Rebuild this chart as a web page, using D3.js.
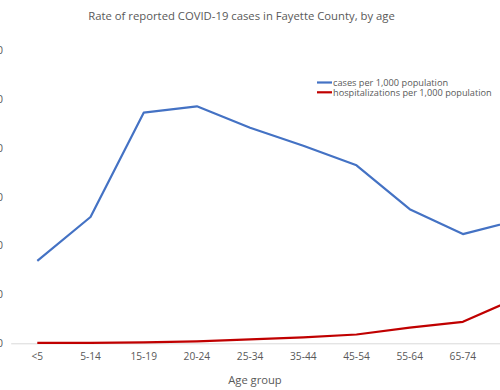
<!DOCTYPE html>
<html>
<head>
<meta charset="utf-8">
<script src="https://cdn.jsdelivr.net/npm/d3@7"></script>
<style>
  body { margin: 0; background: #fff; overflow: hidden; }
  text { font-family: "Open Sans", "Liberation Sans", sans-serif; fill: #595959; }
</style>
</head>
<body>
<div id="chart"></div>
<script>
// chart data
let ageGroups = ["<5", "5-14", "15-19", "20-24", "25-34", "35-44", "45-54", "55-64", "65-74", "75+"];
let casesRate = [16.9, 25.9, 47.3, 48.6, 44.2, 40.5, 36.5, 27.5, 22.4, 25.2];
let hospRate = [0.1, 0.1, 0.2, 0.4, 0.8, 1.2, 1.8, 3.2, 4.4, 9.2];
let yTicks = [0, 10, 20, 30, 40, 50, 60];
let seriesNames = ["cases per 1,000 population", "hospitalizations per 1,000 population"];

let width = 500, height = 390;
let caseColor = '#4472C4',
    hospColor = '#C00000',
    axisColor = '#d9d9d9';

function drawChart() {
    var svg = d3.select('#chart').append('svg')
        .attr('width', width)
        .attr('height', height);

    // band per category, the plot runs past the right edge of the picture
    var x = d3.scaleBand()
        .domain(ageGroups)
        .range([10.7, 10.7 + 53.2 * ageGroups.length]);

    var y = d3.scaleLinear()
        .domain([0, 60])
        .range([343.3, 50.7]);

    var cx = function(d) { return x(d) + x.bandwidth() / 2; };

    // title
    svg.append('text')
        .attr('x', 241.5)
        .attr('y', 20)
        .attr('text-anchor', 'middle')
        .style('font-size', '11.3px')
        .text('Rate of reported COVID-19 cases in Fayette County, by age');

    // y axis labels (cut off by the left edge)
    svg.append('g').selectAll('text')
        .data(yTicks)
        .enter()
        .append('text')
        .attr('x', 3)
        .attr('y', function(d) { return y(d); })
        .attr('dy', '0.35em')
        .attr('text-anchor', 'end')
        .style('font-size', '10.5px')
        .text(function(d) { return d; });

    // x axis
    var xAxis = svg.append('g')
        .attr('transform', 'translate(0,' + y(0) + ')')
        .call(d3.axisBottom(x).tickSize(0).tickPadding(9));
    xAxis.select('.domain').attr('stroke', axisColor).attr('stroke-width', 1);
    xAxis.selectAll('text')
        .style('font-size', '10.2px')
        .style('font-family', '"Open Sans", "Liberation Sans", sans-serif')
        .attr('fill', '#595959');

    svg.append('text')
        .attr('x', 255)
        .attr('y', 384)
        .attr('text-anchor', 'middle')
        .style('font-size', '11.2px')
        .text('Age group');

    var line = d3.line()
        .x(function(d, i) { return cx(ageGroups[i]); })
        .y(function(d) { return y(d); });

    svg.append('path')
        .datum(casesRate)
        .attr('d', line)
        .attr('fill', 'none')
        .attr('stroke', caseColor)
        .attr('stroke-width', 2.2)
        .attr('stroke-linejoin', 'round');

    svg.append('path')
        .datum(hospRate)
        .attr('d', line)
        .attr('fill', 'none')
        .attr('stroke', hospColor)
        .attr('stroke-width', 2.2)
        .attr('stroke-linejoin', 'round');

    // legend
    var legend = svg.append('g').selectAll('g')
        .data(seriesNames)
        .enter()
        .append('g')
        .attr('transform', function(d, i) { return 'translate(317,' + (82.5 + i * 9.8) + ')'; });
    legend.append('line')
        .attr('x1', 0).attr('x2', 15)
        .attr('stroke', function(d, i) { return i == 0 ? caseColor : hospColor; })
        .attr('stroke-width', 2.2);
    legend.append('text')
        .attr('x', 16)
        .attr('dy', '0.35em')
        .style('font-size', '9.2px')
        .text(function(d) { return d; });
}

drawChart();
</script>
</body>
</html>
